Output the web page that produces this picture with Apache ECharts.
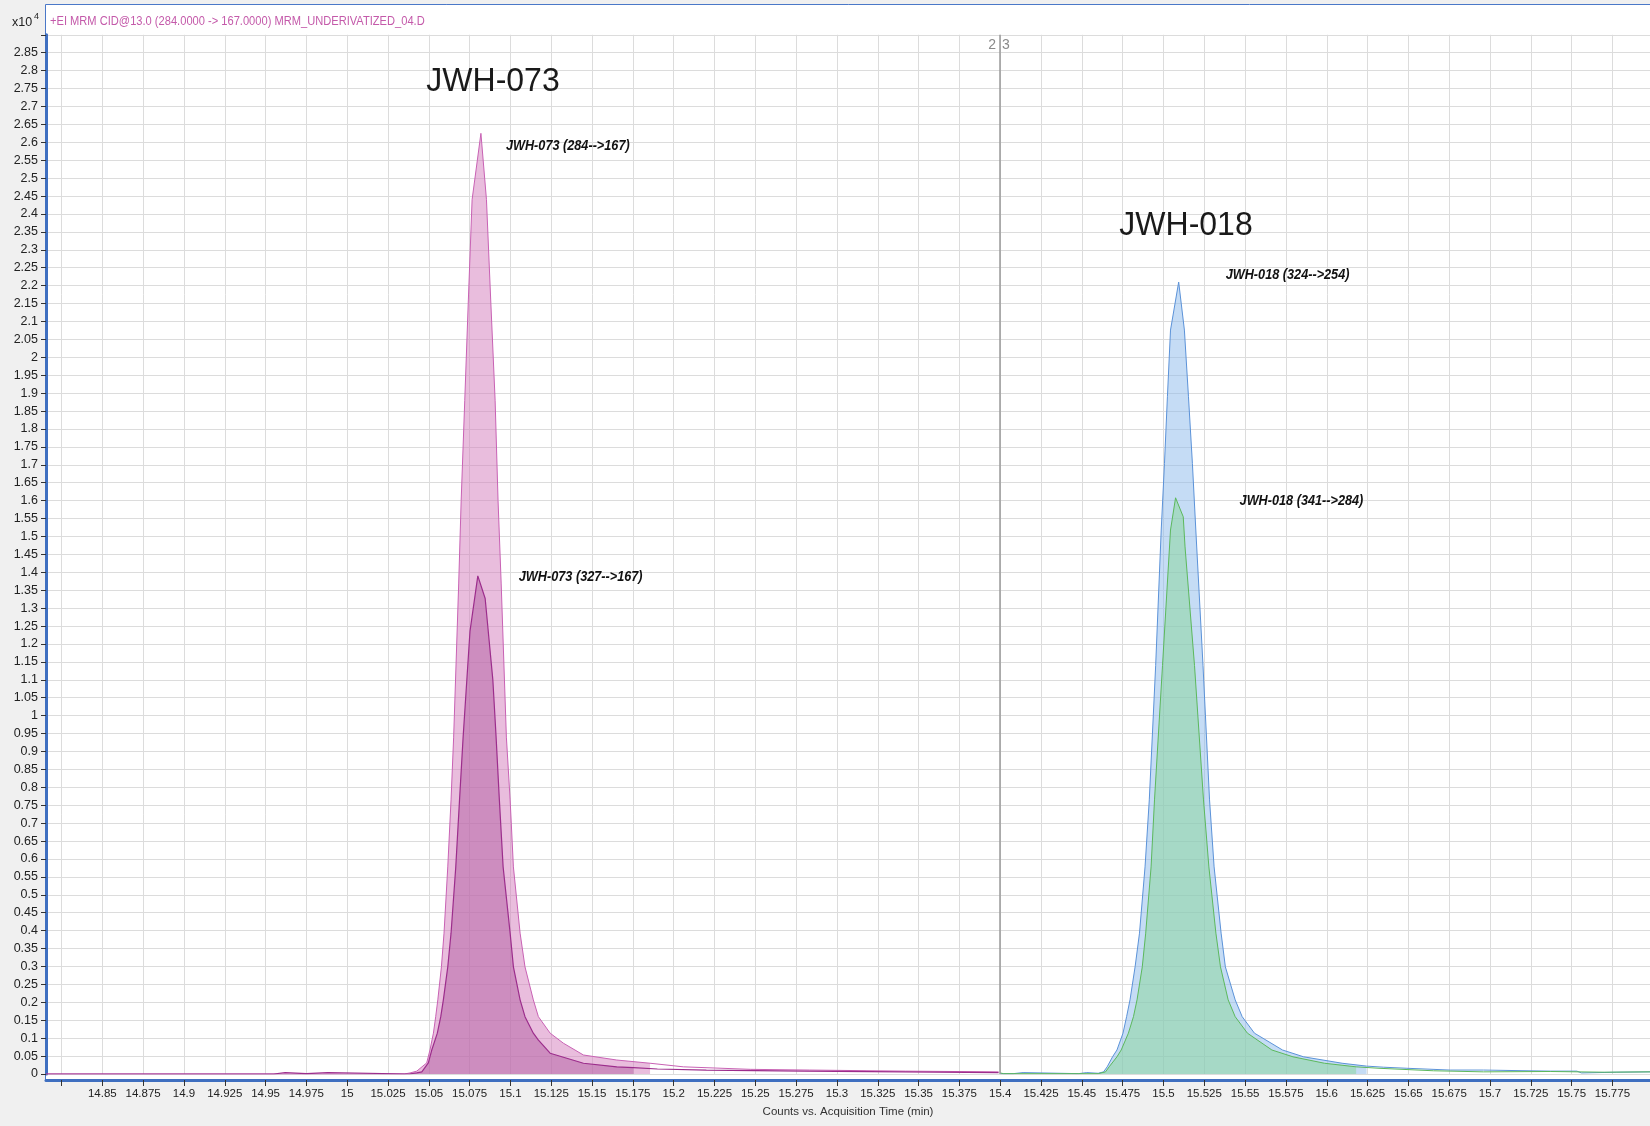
<!DOCTYPE html>
<html>
<head>
<meta charset="utf-8">
<script src="https://cdn.jsdelivr.net/npm/echarts@6/dist/echarts.min.js"></script>
<style>
  html, body { margin: 0; padding: 0; background: #f0f0f0; }
  #chart { width: 1650px; height: 1126px; }
</style>
</head>
<body>
<div id="chart"></div>
<script>
// ---------------- DATA ----------------
const titleText = '+EI MRM CID@13.0 (284.0000 -> 167.0000) MRM_UNDERIVATIZED_04.D';
const xAxisName = 'Counts vs. Acquisition Time (min)';
const compoundLabels = ['JWH-073', 'JWH-018'];
const traceNames = ['JWH-073 (284-->167)', 'JWH-073 (327-->167)', 'JWH-018 (324-->254)', 'JWH-018 (341-->284)'];
const segmentBoundary = 15.4;
const segmentMarks = ['2', '3'];

const xRange = [14.8155, 15.798];
const yRange = [0, 2.9];
const yInterval = 0.05;
const xTickValues = [14.825, 14.85, 14.875, 14.9, 14.925, 14.95, 14.975, 15, 15.025, 15.05, 15.075, 15.1,
  15.125, 15.15, 15.175, 15.2, 15.225, 15.25, 15.275, 15.3, 15.325, 15.35, 15.375, 15.4, 15.425, 15.45,
  15.475, 15.5, 15.525, 15.55, 15.575, 15.6, 15.625, 15.65, 15.675, 15.7, 15.725, 15.75, 15.775];
const xTickLabels = [14.85, 14.875, 14.9, 14.925, 14.95, 14.975, 15, 15.025, 15.05, 15.075, 15.1,
  15.125, 15.15, 15.175, 15.2, 15.225, 15.25, 15.275, 15.3, 15.325, 15.35, 15.375, 15.4, 15.425, 15.45,
  15.475, 15.5, 15.525, 15.55, 15.575, 15.6, 15.625, 15.65, 15.675, 15.7, 15.725, 15.75, 15.775];

// counts x10^4 vs minutes
const jwh073_284 = [
  [14.8155, 0.000], [15.035, 0.000], [15.0385, 0.003], [15.0426, 0.008], [15.0487, 0.031],
  [15.0507, 0.067], [15.0528, 0.114], [15.0542, 0.160], [15.0555, 0.207], [15.0577, 0.299],
  [15.0593, 0.393], [15.0616, 0.578], [15.0636, 0.765], [15.0652, 0.940], [15.0683, 1.370],
  [15.0698, 1.600], [15.0720, 1.880], [15.0742, 2.160], [15.0765, 2.440], [15.0819, 2.625],
  [15.0853, 2.440], [15.0879, 2.160], [15.0906, 1.880], [15.0924, 1.600], [15.0943, 1.370],
  [15.0975, 0.940], [15.0998, 0.765], [15.1018, 0.578], [15.1059, 0.393], [15.1089, 0.299],
  [15.1140, 0.207], [15.1171, 0.160], [15.1243, 0.114], [15.1324, 0.086], [15.1447, 0.053],
  [15.1651, 0.039], [15.1855, 0.030], [15.2059, 0.020], [15.2468, 0.013], [15.2833, 0.011],
  [15.3419, 0.008], [15.3990, 0.006]
];
const jwh073_327 = [
  [14.8155, 0.000], [14.955, 0.000], [14.956, 0.004], [14.962, 0.004], [14.963, 0.001],
  [14.975, 0.001], [14.976, 0.004], [14.988, 0.004], [14.989, 0.000], [15.038, 0.000],
  [15.0426, 0.003], [15.0457, 0.006], [15.0497, 0.031], [15.0518, 0.067], [15.0552, 0.114],
  [15.0573, 0.160], [15.0589, 0.207], [15.0616, 0.299], [15.0636, 0.393], [15.0665, 0.578],
  [15.0688, 0.765], [15.0710, 0.940], [15.0752, 1.235], [15.0800, 1.390], [15.0845, 1.327],
  [15.0892, 1.100], [15.0912, 0.940], [15.0932, 0.765], [15.0955, 0.578], [15.0998, 0.393],
  [15.1018, 0.299], [15.1059, 0.207], [15.1089, 0.160], [15.1140, 0.114], [15.1170, 0.095],
  [15.1243, 0.058], [15.1447, 0.030], [15.1651, 0.020], [15.1753, 0.018], [15.1900, 0.014],
  [15.2200, 0.011], [15.2800, 0.008], [15.3400, 0.006], [15.3990, 0.004]
];
const jwh018_324 = [
  [15.400, 0.001], [15.408, 0.001], [15.409, 0.004], [15.414, 0.004], [15.415, 0.001],
  [15.448, 0.001], [15.449, 0.004], [15.453, 0.004], [15.454, 0.001], [15.460, 0.002],
  [15.4633, 0.006], [15.4655, 0.020], [15.4688, 0.048], [15.4715, 0.067], [15.4752, 0.114],
  [15.4774, 0.160], [15.4795, 0.207], [15.4826, 0.299], [15.4853, 0.393], [15.4887, 0.578],
  [15.4913, 0.765], [15.4952, 1.140], [15.4986, 1.518], [15.5006, 1.704], [15.5024, 1.890],
  [15.5043, 2.076], [15.5093, 2.210], [15.5128, 2.076], [15.5153, 1.890], [15.5177, 1.704],
  [15.5198, 1.518], [15.5242, 1.140], [15.5282, 0.765], [15.5310, 0.578], [15.5353, 0.393],
  [15.5379, 0.299], [15.5439, 0.207], [15.5482, 0.160], [15.5557, 0.114], [15.5729, 0.067],
  [15.5858, 0.048], [15.6094, 0.030], [15.6244, 0.022], [15.6347, 0.019], [15.6491, 0.016],
  [15.6756, 0.011], [15.6960, 0.011], [15.7369, 0.008], [15.7532, 0.008], [15.7560, 0.003],
  [15.7777, 0.005], [15.7980, 0.006]
];
const jwh018_341 = [
  [15.400, 0.003], [15.402, 0.001], [15.460, 0.001], [15.4645, 0.006], [15.4667, 0.020],
  [15.4715, 0.048], [15.4741, 0.067], [15.4785, 0.114], [15.4816, 0.160], [15.4838, 0.207],
  [15.4870, 0.299], [15.4891, 0.393], [15.4924, 0.578], [15.4945, 0.765], [15.4994, 1.140],
  [15.5043, 1.518], [15.5074, 1.608], [15.5121, 1.555], [15.5132, 1.471], [15.5190, 1.140],
  [15.5245, 0.765], [15.5278, 0.578], [15.5321, 0.393], [15.5349, 0.299], [15.5396, 0.207],
  [15.5439, 0.160], [15.5514, 0.114], [15.5664, 0.067], [15.5793, 0.048], [15.5986, 0.030],
  [15.6180, 0.020], [15.6320, 0.016], [15.6654, 0.009], [15.6960, 0.006], [15.7369, 0.007],
  [15.7700, 0.005], [15.7980, 0.006]
];
// integration windows (shaded region) per trace, minutes
const fillWindows = [[15.035, 15.187], [15.038, 15.1753], [15.460, 15.6244], [15.460, 15.6180]];

// ---------------- STYLE ----------------
const SANS = "'Liberation Sans', Arial, sans-serif";
const traces = [jwh073_284, jwh073_327, jwh018_324, jwh018_341];
const lineColors = ['#c862b4', '#9c2d8c', '#5b92d8', '#5cb85c'];
const fillColors = ['rgba(211,123,187,0.5)', 'rgba(177,93,161,0.5)', 'rgba(140,185,235,0.5)', 'rgba(135,214,151,0.5)'];
const lineWidths = [1, 1.2, 1, 1];
const labelOffsets = [[25, 13], [41, 1], [47, -7], [64, 3]];

function apexOf(arr) {
  let best = arr[0];
  arr.forEach(p => { if (p[1] > best[1]) best = p; });
  return best;
}
function within(arr, w) {
  return arr.filter(p => p[0] >= w[0] - 1e-9 && p[0] <= w[1] + 1e-9);
}

const series = [];
traces.forEach((t, i) => {
  series.push({
    type: 'line', data: within(t, fillWindows[i]), showSymbol: false, silent: true,
    lineStyle: { width: 0, opacity: 0 }, areaStyle: { color: fillColors[i], opacity: 1 },
    z: 2 + i * 0.1
  });
});
traces.forEach((t, i) => {
  const s = {
    type: 'line', data: t, showSymbol: false, silent: true,
    lineStyle: { color: lineColors[i], width: lineWidths[i] },
    z: 4 + i * 0.1
  };
  if (i === 0) {
    s.markLine = {
      silent: true, symbol: ['none', 'none'], label: { show: false },
      lineStyle: { color: '#9a9a9a', width: 1.5, type: 'solid' },
      data: [{ xAxis: segmentBoundary }]
    };
  }
  series.push(s);
});

const chart = echarts.init(document.getElementById('chart'), null, { renderer: 'canvas' });
chart.setOption({
  animation: false,
  backgroundColor: '#f0f0f0',
  grid: { left: 46, right: 0, top: 34.8, bottom: 52, containLabel: false },
  xAxis: {
    type: 'value', min: xRange[0], max: xRange[1], offset: 6,
    name: xAxisName, nameLocation: 'middle', nameGap: 26,
    nameTextStyle: { fontFamily: SANS, fontSize: 11.5, color: '#333' },
    axisLine: { show: true, onZero: false, lineStyle: { color: '#3f6fc0', width: 3 } },
    axisTick: { show: true, length: 6, customValues: xTickValues, lineStyle: { color: '#333' } },
    axisLabel: {
      customValues: xTickLabels, margin: 8, fontFamily: SANS, fontSize: 11.5, color: '#222',
      formatter: v => String(+(+v).toFixed(3))
    },
    splitLine: { show: true, lineStyle: { color: '#dcdcdc', width: 1 } }
  },
  yAxis: {
    type: 'value', min: yRange[0], max: yRange[1], interval: yInterval,
    axisLine: { show: true, lineStyle: { color: '#3f6fc0', width: 3 } },
    axisTick: { show: true, length: 5, lineStyle: { color: '#333' } },
    axisLabel: {
      margin: 8, fontFamily: SANS, fontSize: 12.5, color: '#222',
      formatter: v => (v > yRange[1] - yInterval / 2 ? '' : String(+(+v).toFixed(2)))
    },
    splitLine: { show: true, lineStyle: { color: '#dcdcdc', width: 1 } }
  },
  series: series
});

// annotations positioned from the data through the chart's own scales
const graphics = [
  { type: 'rect', z: -100, silent: true,
    shape: { x: 45.5, y: 4.5, width: 1610, height: 1076 },
    style: { fill: '#ffffff', stroke: '#4a78c8', lineWidth: 1 } },
  { type: 'text', z: 10, x: 12, y: 23, silent: true,
    style: { text: 'x10', fontFamily: SANS, fontSize: 12.5, fill: '#222', align: 'left', verticalAlign: 'middle' } },
  { type: 'text', z: 10, x: 34, y: 17, silent: true,
    style: { text: '4', fontFamily: SANS, fontSize: 9, fill: '#222', align: 'left', verticalAlign: 'middle' } },
  { type: 'text', z: 10, x: 50, y: 21, scaleX: 0.855, silent: true,
    style: { text: titleText, fontFamily: SANS, fontSize: 13, fill: '#c45aaa', align: 'left', verticalAlign: 'middle' } },
  { type: 'text', z: 10, x: 493, y: 82, scaleX: 0.97, silent: true,
    style: { text: compoundLabels[0], fontFamily: SANS, fontSize: 33, fill: '#1a1a1a', align: 'center', verticalAlign: 'middle' } },
  { type: 'text', z: 10, x: 1186, y: 226, scaleX: 0.97, silent: true,
    style: { text: compoundLabels[1], fontFamily: SANS, fontSize: 33, fill: '#1a1a1a', align: 'center', verticalAlign: 'middle' } },
  { type: 'text', z: 10, x: 996, y: 45, silent: true,
    style: { text: segmentMarks[0], fontFamily: SANS, fontSize: 14, fill: '#8a8a8a', align: 'right', verticalAlign: 'middle' } },
  { type: 'text', z: 10, x: 1002, y: 45, silent: true,
    style: { text: segmentMarks[1], fontFamily: SANS, fontSize: 14, fill: '#8a8a8a', align: 'left', verticalAlign: 'middle' } }
];
traces.forEach((t, i) => {
  const p = chart.convertToPixel({ gridIndex: 0 }, apexOf(t));
  graphics.push({
    type: 'text', z: 10, silent: true,
    x: p[0] + labelOffsets[i][0], y: p[1] + labelOffsets[i][1], scaleX: 0.875,
    style: { text: traceNames[i], fontFamily: SANS, fontSize: 14.5, fontStyle: 'italic', fontWeight: 'bold',
      fill: '#111', align: 'left', verticalAlign: 'middle' }
  });
});
chart.setOption({ graphic: { elements: graphics } });
</script>
</body>
</html>
